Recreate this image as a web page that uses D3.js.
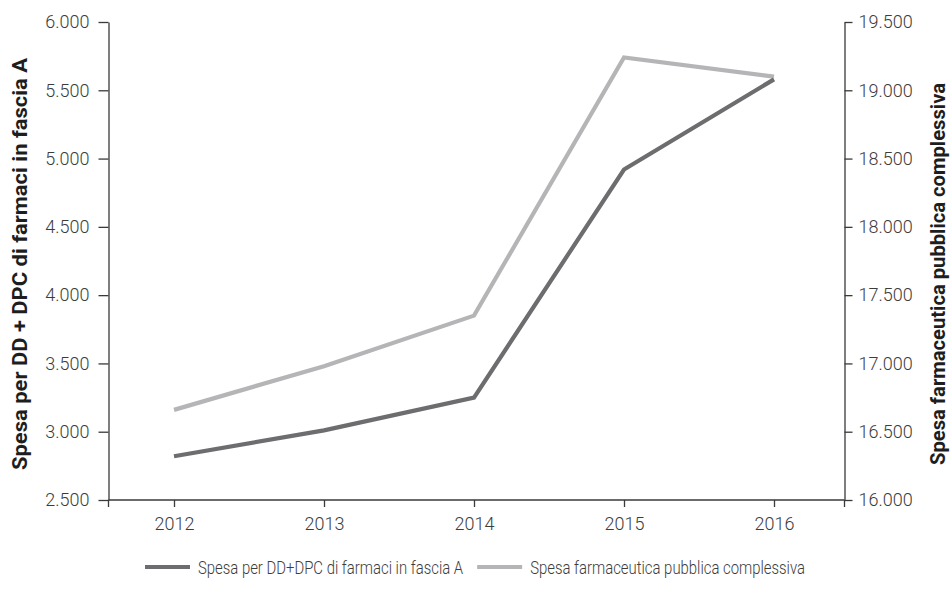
<!DOCTYPE html>
<html>
<head>
<meta charset="utf-8">
<script src="https://cdn.jsdelivr.net/npm/d3@7"></script>
<style>
  html, body { margin: 0; padding: 0; background: #fff; }
  svg { display: block; }
  text { font-family: "Roboto", "Liberation Sans", sans-serif; }
</style>
</head>
<body>
<svg id="chart" width="952" height="602"></svg>
<script>
// Anni
const years = ["2012", "2013", "2014", "2015", "2016"];
// Spesa per DD+DPC di farmaci in fascia A (asse sinistro, milioni di euro)
const spesaDD = [2820, 3010, 3250, 4920, 5580];
// Spesa farmaceutica pubblica complessiva (asse destro, milioni di euro)
const spesaTot = [16660, 16980, 17350, 19240, 19100];
// Tick degli assi
const leftTicks = [2500, 3000, 3500, 4000, 4500, 5000, 5500, 6000];
const rightTicks = [16000, 16500, 17000, 17500, 18000, 18500, 19000, 19500];

const seriesNames = ["Spesa per DD+DPC di farmaci in fascia A", "Spesa farmaceutica pubblica complessiva"];
const axisTitles = ["Spesa per DD + DPC di farmaci in fascia A", "Spesa farmaceutica pubblica complessiva"];
const colors = ["#6d6d70", "#b5b5b7"];

const svg = d3.select("#chart");
const plotLeft = 108.5, plotRight = 844.5, plotTop = 22, plotBottom = 500;

const x = d3.scalePoint().domain(years).range([174, 774]);
const yL = d3.scaleLinear().domain([2500, 6000]).range([plotBottom, plotTop]);
const yR = d3.scaleLinear().domain([16000, 19500]).range([plotBottom, plotTop]);

// separatore delle migliaia con il punto
const itFmt = v => String(v).replace(/\B(?=(\d{3})+(?!\d))/g, ".");

const axisColor = "#3a3a3a";
const textColor = "#3c3c3c";

// Asse sinistro
const gL = svg.append("g").attr("transform", `translate(${plotLeft},0)`)
  .call(d3.axisLeft(yL).tickValues(leftTicks).tickFormat(itFmt).tickSize(10).tickSizeOuter(0).tickPadding(9));
// Asse destro
const gR = svg.append("g").attr("transform", `translate(${plotRight},0)`)
  .call(d3.axisRight(yR).tickValues(rightTicks).tickFormat(itFmt).tickSize(8).tickSizeOuter(0).tickPadding(6));
// Asse x
const gX = svg.append("g").attr("transform", `translate(0,${plotBottom})`)
  .call(d3.axisBottom(x).tickSize(7).tickSizeOuter(0).tickPadding(10));
gX.select(".domain").remove();
gX.append("line").attr("x1", plotLeft).attr("x2", plotRight).attr("y1", 0).attr("y2", 0)
  .attr("stroke", axisColor).attr("stroke-width", 1.3);
// prolungamenti verticali degli assi sotto la base
[plotLeft, plotRight].forEach(px => gX.append("line").attr("x1", px).attr("x2", px)
  .attr("y1", 0).attr("y2", 7).attr("stroke", axisColor).attr("stroke-width", 1.3));

[gL, gR, gX].forEach(g => {
  g.selectAll(".domain").attr("stroke", axisColor).attr("stroke-width", 1.3);
  g.selectAll(".tick line").attr("stroke", axisColor).attr("stroke-width", 1.3);
  g.selectAll(".tick text").attr("fill", textColor)
    .style("font-size", "18px").style("font-weight", "300");
});

// Titoli degli assi (carattere condensato)
svg.append("text")
  .attr("transform", `translate(27,264) rotate(-90)`)
  .attr("text-anchor", "middle")
  .attr("fill", "#1e1e1e")
  .attr("textLength", 412).attr("lengthAdjust", "spacingAndGlyphs")
  .style("font-size", "20px").style("font-weight", "bold")
  .text(axisTitles[0]);
svg.append("text")
  .attr("transform", `translate(945,274) rotate(-90)`)
  .attr("text-anchor", "middle")
  .attr("fill", "#1e1e1e")
  .attr("textLength", 382).attr("lengthAdjust", "spacingAndGlyphs")
  .style("font-size", "20px").style("font-weight", "bold")
  .text(axisTitles[1]);

// Linee
const lineL = d3.line().x((d, i) => x(years[i])).y(d => yL(d));
const lineR = d3.line().x((d, i) => x(years[i])).y(d => yR(d));

svg.append("path").datum(spesaTot).attr("d", lineR)
  .attr("fill", "none").attr("stroke", colors[1]).attr("stroke-width", 4.2);
svg.append("path").datum(spesaDD).attr("d", lineL)
  .attr("fill", "none").attr("stroke", colors[0]).attr("stroke-width", 4.2);

// Legenda: testi condensati in proporzione per stare tra x=145 e x=805
const legend = svg.append("g").attr("transform", "translate(0,567)");
const swatchW = 45, swatchGap = 8, itemGap = 14, legStart = 145, legEnd = 805;
const texts = seriesNames.map(name => legend.append("text")
  .attr("y", 7).attr("fill", textColor)
  .style("font-size", "18px").style("font-weight", "300").text(name));
const natural = texts.map(t => t.node().getComputedTextLength());
const factor = Math.min(1, (legEnd - legStart - 2 * (swatchW + swatchGap) - itemGap) / d3.sum(natural));
let cx = legStart;
texts.forEach((t, i) => {
  legend.append("line").attr("x1", cx).attr("x2", cx + swatchW).attr("y1", 0).attr("y2", 0)
    .attr("stroke", colors[i]).attr("stroke-width", 4.2);
  cx += swatchW + swatchGap;
  const w = natural[i] * factor;
  t.attr("x", cx).attr("textLength", w).attr("lengthAdjust", "spacingAndGlyphs");
  cx += w + itemGap;
});
</script>
</body>
</html>
